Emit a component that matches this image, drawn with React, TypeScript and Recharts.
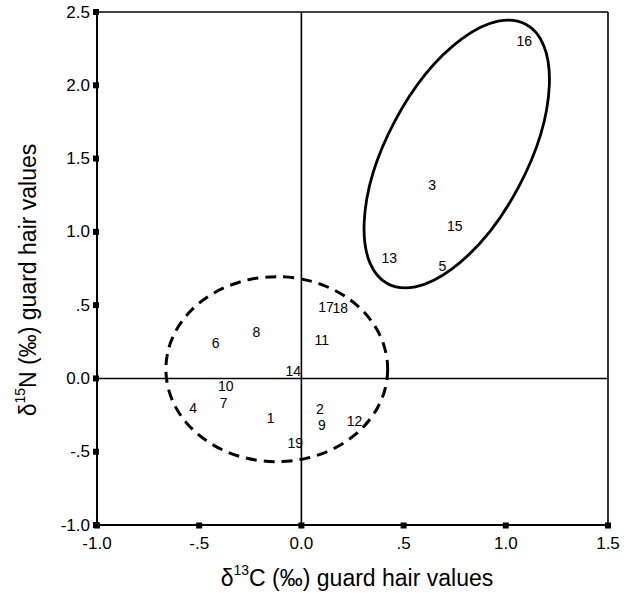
import React from "react";
import {
  ScatterChart,
  Scatter,
  XAxis,
  YAxis,
  ReferenceLine,
  ReferenceArea,
} from "recharts";

// Point labels (individual ids) and their isotope values
const pointLabels = ["1", "2", "3", "4", "5", "6", "7", "8", "9", "10", "11", "12", "13", "14", "15", "16", "17", "18", "19"];
const carbonValues = [-0.15, 0.09, 0.64, -0.53, 0.69, -0.42, -0.38, -0.22, 0.1, -0.37, 0.1, 0.26, 0.43, -0.04, 0.75, 1.09, 0.12, 0.19, -0.03];
const nitrogenValues = [-0.27, -0.21, 1.32, -0.2, 0.77, 0.24, -0.17, 0.32, -0.32, -0.05, 0.26, -0.29, 0.82, 0.05, 1.04, 2.3, 0.49, 0.48, -0.44];

const xTicks = [-1, -0.5, 0, 0.5, 1, 1.5];
const xTickLabels = ["-1.0", "-.5", "0.0", ".5", "1.0", "1.5"];
const yTicks = [-1, -0.5, 0, 0.5, 1, 1.5, 2, 2.5];
const yTickLabels = ["-1.0", "-.5", "0.0", ".5", "1.0", "1.5", "2.0", "2.5"];

// Group ellipses (data-space bounding boxes)
const dashedEllipseX = [-0.663, 0.422];
const dashedEllipseY = [-0.568, 0.694];
const solidEllipseX = [0.417, 1.103];
const solidEllipseY = [0.528, 2.534];
const solidEllipseTilt = 28;

const data = pointLabels.map((label, i) => ({
  x: carbonValues[i],
  y: nitrogenValues[i],
  label,
}));

const FONT = '"Liberation Sans", Arial, Helvetica, sans-serif';

const XTick = (props: any) => {
  const { x, y, payload } = props;
  const idx = xTicks.indexOf(payload.value);
  return (
    <g>
      <rect x={x - 3} y={y - 2.5} width={6} height={6} fill="#000" />
      <text
        x={x}
        y={y + 18}
        textAnchor="middle"
        dominantBaseline="central"
        fontFamily={FONT}
        fontSize={17}
        fill="#000"
      >
        {xTickLabels[idx]}
      </text>
    </g>
  );
};

const YTick = (props: any) => {
  const { x, y, payload } = props;
  const idx = yTicks.indexOf(payload.value);
  return (
    <g>
      <rect x={x - 4} y={y - 3} width={6} height={6} fill="#000" />
      <text
        x={x - 7}
        y={y}
        textAnchor="end"
        dominantBaseline="central"
        fontFamily={FONT}
        fontSize={17}
        fill="#000"
      >
        {yTickLabels[idx]}
      </text>
    </g>
  );
};

const PointLabel = (props: any) => {
  const { cx, cy, payload } = props;
  return (
    <text
      x={cx}
      y={cy}
      textAnchor="middle"
      dominantBaseline="central"
      fontFamily={FONT}
      fontSize={14}
      fill="#000"
    >
      {payload.label}
    </text>
  );
};

const DashedEllipse = (props: any) => {
  const { x, y, width, height } = props;
  return (
    <ellipse
      cx={x + width / 2}
      cy={y + height / 2}
      rx={Math.abs(width) / 2}
      ry={Math.abs(height) / 2}
      fill="none"
      stroke="#000"
      strokeWidth={3}
      strokeDasharray="11 7"
    />
  );
};

const SolidEllipse = (props: any) => {
  const { x, y, width, height } = props;
  const cx = x + width / 2;
  const cy = y + height / 2;
  return (
    <ellipse
      cx={cx}
      cy={cy}
      rx={Math.abs(width) / 2}
      ry={Math.abs(height) / 2}
      fill="none"
      stroke="#000"
      strokeWidth={2.8}
      transform={`rotate(${solidEllipseTilt} ${cx} ${cy})`}
    />
  );
};

const XTitle = () => (
  <text x={357} y={578} textAnchor="middle" dominantBaseline="central" fontFamily={FONT} fontSize={23} fill="#000">
    <tspan>δ</tspan>
    <tspan fontSize={14} dy={-8}>13</tspan>
    <tspan dy={8}>C (‰) guard hair values</tspan>
  </text>
);

const YTitle = () => (
  <text
    x={0}
    y={0}
    transform="translate(28 280) rotate(-90)"
    textAnchor="middle"
    dominantBaseline="central"
    fontFamily={FONT}
    fontSize={23}
    fill="#000"
  >
    <tspan>δ</tspan>
    <tspan fontSize={14} dy={-8}>15</tspan>
    <tspan dy={8}>N (‰) guard hair values</tspan>
  </text>
);

export default function App() {
  return (
    <div style={{ position: "absolute", left: 0, top: 0, width: 628, height: 593, background: "#fff" }}>
      <ScatterChart width={628} height={593} margin={{ top: 12, right: 20, bottom: 0, left: 0 }}>
        <XAxis
          type="number"
          dataKey="x"
          domain={[-1, 1.5]}
          ticks={xTicks}
          allowDataOverflow
          height={68}
          tickSize={0}
          tickMargin={0}
          tickLine={false}
          axisLine={{ stroke: "#000", strokeWidth: 2 }}
          tick={<XTick />}
          label={{ content: () => <XTitle /> }}
        />
        <YAxis
          type="number"
          dataKey="y"
          domain={[-1, 2.5]}
          ticks={yTicks}
          allowDataOverflow
          width={97}
          tickSize={0}
          tickMargin={0}
          tickLine={false}
          axisLine={{ stroke: "#000", strokeWidth: 2 }}
          tick={<YTick />}
          label={{ content: () => <YTitle /> }}
        />
        <ReferenceLine y={2.5} stroke="#000" strokeWidth={1.6} />
        <ReferenceLine x={1.5} stroke="#000" strokeWidth={1.6} />
        <ReferenceLine y={0} stroke="#000" strokeWidth={1.6} />
        <ReferenceLine x={0} stroke="#000" strokeWidth={1.6} />
        <ReferenceArea
          x1={dashedEllipseX[0]}
          x2={dashedEllipseX[1]}
          y1={dashedEllipseY[0]}
          y2={dashedEllipseY[1]}
          ifOverflow="visible"
          shape={<DashedEllipse />}
        />
        <ReferenceArea
          x1={solidEllipseX[0]}
          x2={solidEllipseX[1]}
          y1={solidEllipseY[0]}
          y2={solidEllipseY[1]}
          ifOverflow="visible"
          shape={<SolidEllipse />}
        />
        <Scatter data={data} isAnimationActive={false} shape={<PointLabel />} />
      </ScatterChart>
    </div>
  );
}
